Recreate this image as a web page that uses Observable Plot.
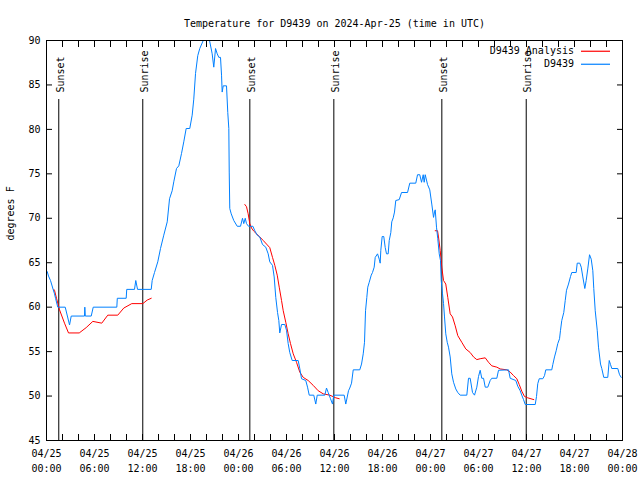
<!DOCTYPE html>
<html><head><meta charset="utf-8">
<script src="https://cdn.jsdelivr.net/npm/d3@7"></script>
<script src="https://cdn.jsdelivr.net/npm/@observablehq/plot@0.6"></script>
<style>
body{margin:0;background:#fff;}
#wrap{position:relative;width:640px;height:480px;}
</style></head><body><div id="wrap"></div>
<script>
const startUTC = "2024-04-25T00:00:00Z";
const titleText = "Temperature for D9439 on 2024-Apr-25 (time in UTC)";
const yLabel = "degrees F";
const seriesNames = ["D9439 Analysis", "D9439"];
const seriesColors = ["#ff0000", "#0080ff"];
const yTicks = [45, 50, 55, 60, 65, 70, 75, 80, 85, 90];
const sunTimes = ["2024-04-25T01:32:00Z", "2024-04-25T12:02:00Z", "2024-04-26T01:25:00Z", "2024-04-26T11:55:00Z", "2024-04-27T01:25:00Z", "2024-04-27T11:58:00Z"];
const sunLabels = ["Sunset", "Sunrise", "Sunset", "Sunrise", "Sunset", "Sunrise"];

// observed station D9439: hours after start, temperature (F)
const obsHours = [0.09,0.25,0.5,0.83,1.0,1.13,1.41,2.34,2.88,3.09,4.75,4.79,4.85,5.59,5.84,8.79,8.85,9.96,10.03,11.0,11.16,11.38,13.09,13.21,13.5,13.91,14.25,14.66,15.09,15.38,15.71,15.91,16.25,16.54,16.88,17.16,17.46,17.91,18.21,18.41,18.63,18.91,19.16,19.59,20.38,20.71,20.91,21.13,21.34,21.54,21.75,21.88,21.96,22.09,22.5,22.66,22.79,22.84,22.91,23.09,23.41,23.84,24.25,24.5,24.66,24.84,25.0,25.25,25.8,26.04,26.34,26.66,27.0,27.41,27.71,27.91,28.25,28.46,28.66,28.88,29.04,29.16,29.38,29.79,30.0,30.21,30.41,30.71,31.46,31.66,31.88,32.41,32.63,32.84,33.41,33.66,33.84,34.79,35.0,35.21,35.5,35.75,35.91,37.21,37.41,37.75,37.91,38.13,38.34,39.16,39.38,39.59,39.75,39.88,40.04,40.16,40.34,40.59,40.75,40.96,41.09,41.38,41.59,41.71,41.79,41.96,42.16,42.34,42.5,42.71,42.84,43.04,43.16,43.34,43.5,43.66,44.09,44.38,45.13,45.41,46.16,46.38,46.66,46.88,47.09,47.21,47.34,47.63,47.91,48.16,48.38,48.5,48.59,48.75,48.91,49.09,49.25,49.34,49.5,49.63,49.75,49.91,50.09,50.25,50.46,50.66,50.88,51.16,51.41,51.71,52.54,52.75,52.96,53.25,53.5,53.79,54.0,54.21,54.41,54.63,54.84,55.16,55.46,55.66,56.29,56.5,57.75,57.96,58.66,58.91,59.21,59.41,59.63,59.84,61.09,61.25,61.41,61.59,62.04,62.25,62.41,63.16,63.29,63.5,63.71,63.91,64.13,64.25,64.41,64.66,64.84,65.0,65.25,65.5,65.66,66.21,66.34,66.66,66.84,67.04,67.29,67.46,67.66,67.88,68.09,68.29,68.41,68.59,68.84,69.0,69.25,69.41,69.66,70.16,70.34,70.5,70.66,71.41,71.63,71.84];
const obsTemps = [64.0,63.5,63.0,62.0,61.5,61.0,60.0,60.0,58.0,59.0,59.0,60.0,59.0,59.0,60.0,60.0,61.0,61.0,62.0,62.0,63.0,62.0,62.0,63.0,63.9,65.1,66.6,68.1,69.6,72.2,73.1,74.1,75.6,75.9,77.3,78.6,80.1,80.1,81.6,83.4,86.3,88.3,89.1,90,90,88.5,87.0,89.1,88.5,88.1,88.1,86.1,84.2,84.9,84.9,81.9,80.1,75.2,71.1,70.5,69.75,69.1,69.1,70.0,69.4,70.0,69.4,69.1,69.1,68.6,68.1,67.9,67.05,66.75,66.0,65.1,64.7,63.4,61.1,59.4,58.5,57.1,58.05,58.05,57.4,55.9,54.9,54.0,54.0,53.1,51.95,51.75,51.0,50.1,50.1,49.1,50.1,50.1,50.9,50.4,49.7,49.1,50.1,50.1,49.1,50.6,50.9,51.45,52.95,52.95,53.6,54.75,56.05,59.6,61.1,62.25,62.8,63.6,63.9,64.5,65.6,66.0,65.4,64.95,66.4,67.95,67.95,66.7,66.0,66.0,67.5,68.4,69.6,70.05,70.7,72.0,72.1,72.9,72.9,73.95,73.95,74.9,74.9,74.05,74.9,74.05,74.9,73.8,73.2,71.6,70.1,70.7,70.95,69.0,67.7,66.0,65.25,63.0,61.5,60.4,58.9,57.0,56.05,55.5,54.4,52.5,51.55,50.8,50.4,50.1,50.1,52.0,52.0,50.4,50.1,51.0,52.2,52.9,52.0,52.0,51.0,51.0,51.75,52.0,52.0,52.9,52.95,52.0,51.75,51.1,50.6,50.1,49.6,49.05,49.05,49.95,51.4,51.95,51.95,52.3,52.95,52.95,53.55,54.4,55.1,55.9,56.45,57.4,58.5,59.4,60.75,61.9,62.6,63.45,63.9,63.9,64.95,64.95,64.5,63.4,62.1,63.0,64.3,65.9,65.4,64.1,62.1,59.6,57.4,55.5,53.6,53.1,52.1,52.1,54.0,53.55,53.1,53.1,52.4,52.1];

// analysis D9439: hours after start, temperature (F); null = gap between nightly runs
const anaHours = [0.91,1.0,1.25,1.63,2.25,2.75,4.09,4.96,5.79,6.91,7.66,8.91,9.66,10.66,12.04,12.59,13.09,13.1,24.79,25.0,25.21,25.41,25.63,25.91,26.25,26.66,27.09,27.5,27.91,28.25,28.54,28.84,29.09,29.38,29.59,29.91,30.21,30.5,30.84,31.25,31.66,32.09,32.71,33.34,33.96,34.59,35.41,36.16,36.59,36.6,48.59,48.88,49.0,49.21,49.41,49.63,49.91,50.16,50.46,50.75,51.09,51.41,51.91,52.41,52.96,53.38,53.79,54.21,54.84,55.25,55.66,56.29,56.71,57.54,57.96,58.38,58.79,59.09,59.41,59.75,60.16,60.91];
const anaTemps = [62.0,61.9,61.0,59.7,58.2,57.1,57.1,57.7,58.4,58.2,59.1,59.1,59.9,60.4,60.4,60.8,61.0,null,71.55,71.3,70.5,69.4,68.9,68.55,68.25,67.9,67.5,67.1,66.7,65.6,64.7,63.6,62.25,60.75,59.6,58.3,57.0,55.9,54.75,53.8,52.7,52.1,51.75,51.2,50.6,50.25,50.1,49.8,49.7,null,68.6,68.6,67.9,66.4,64.5,63.0,62.6,61.1,59.25,58.9,57.9,56.8,56.05,55.3,54.9,54.4,54.1,54.2,54.3,53.8,53.4,53.25,53.05,52.95,52.7,52.3,51.95,51.3,50.55,49.95,49.8,49.6];

const t0 = new Date(startUTC).getTime();
const toDate = h => new Date(t0 + h * 3600e3);
const obs = obsHours.map((h, i) => ({t: toDate(h), v: obsTemps[i]}));
const ana = anaHours.map((h, i) => ({t: toDate(h), v: anaTemps[i]}));
const sun = sunTimes.map((s, i) => ({t: new Date(s), label: sunLabels[i]}));
const tEnd = new Date(t0 + 72 * 3600e3);
const xMajor = d3.utcHour.every(6).range(new Date(t0), new Date(tEnd.getTime() + 1));
const xMinor = d3.utcHour.every(2).range(new Date(t0), new Date(tEnd.getTime() + 1));
const font = '"DejaVu Sans Mono", monospace';

const chart = Plot.plot({
  width: 640, height: 480,
  marginTop: 40, marginLeft: 46, marginRight: 18, marginBottom: 40,
  style: {fontFamily: font, fontSize: "10px", background: "white", color: "black"},
  x: {type: "utc", domain: [new Date(t0), tEnd]},
  y: {domain: [45, 90]},
  marks: [
    Plot.ruleX(sun, {x: "t", insetTop: 59, stroke: "black"}),
    Plot.text(sun, {x: "t", text: "label", frameAnchor: "top", dy: 52, dx: -2, rotate: -90, textAnchor: "start", fill: "black"}),
    Plot.line(ana, {x: "t", y: "v", stroke: seriesColors[0], strokeWidth: 1, clip: true}),
    Plot.line(obs, {x: "t", y: "v", stroke: seriesColors[1], strokeWidth: 1, clip: true}),
    Plot.axisX(xMinor, {anchor: "bottom", tickSize: -6, fill: "none", label: null}),
    Plot.axisX(xMinor, {anchor: "top", tickSize: -6, fill: "none", label: null}),
    Plot.axisX(xMajor, {anchor: "bottom", tickSize: 0, tickPadding: 6, lineHeight: 1.5, tickFormat: d3.utcFormat("%m/%d\n%H:%M"), label: null}),
    Plot.axisY(yTicks, {anchor: "right", tickSize: -6, fill: "none", label: null}),
    Plot.axisY(yTicks, {anchor: "left", tickSize: -6, fill: "none", label: null}),
    Plot.axisY(yTicks, {anchor: "left", tickSize: 0, tickPadding: 6, label: null}),
    Plot.text([yLabel], {text: d => d, frameAnchor: "left", dx: -36, rotate: -90, fill: "black"}),
    Plot.frame({stroke: "black"}),
    Plot.text([titleText], {text: d => d, frameAnchor: "top", dy: -21, fill: "black"})
  ]
});
const wrap = document.getElementById("wrap");
wrap.appendChild(chart);
// key (legend) drawn into the same SVG, top-right inside the frame
const key = d3.select(chart).append("g").attr("font-family", font).attr("font-size", 10);
seriesNames.forEach((name, i) => {
  const yy = 51 + i * 13;
  key.append("text").attr("x", 574).attr("y", yy).attr("dy", "0.32em")
    .attr("text-anchor", "end").attr("fill", "black").text(name);
  key.append("line").attr("x1", 581).attr("x2", 610).attr("y1", yy + 0.25).attr("y2", yy + 0.25)
    .attr("stroke", seriesColors[i]).attr("stroke-width", 1.2);
});
</script></body></html>
